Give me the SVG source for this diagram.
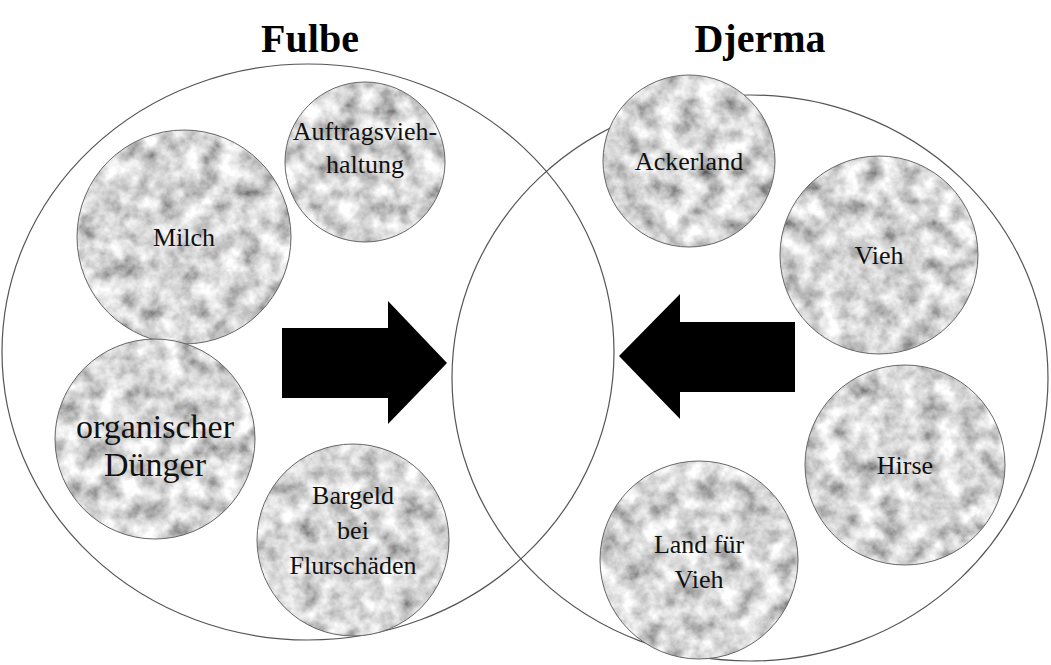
<svg xmlns="http://www.w3.org/2000/svg" width="1051" height="665" viewBox="0 0 1051 665">
<style>
.big{fill:none;stroke:#555;stroke-width:1.2}
.node{fill:#bdbdbd;filter:url(#mottle)}
.ring{fill:none;stroke:#666;stroke-width:1}
.lbl{font-family:"Liberation Serif","Times New Roman",serif;font-size:26px;fill:#111;text-anchor:middle}
.lg{font-size:34px}
.title{font-family:"Liberation Serif","Times New Roman",serif;font-size:40px;font-weight:bold;fill:#000;text-anchor:middle}
.arrow{fill:#000}
</style>
<defs>
<filter id="mottle" x="0" y="0" width="100%" height="100%">
<feTurbulence type="fractalNoise" baseFrequency="0.05" numOctaves="4" seed="7" result="n"/>
<feColorMatrix in="n" type="matrix" values="1.3 0 0 0 0.03  1.3 0 0 0 0.03  1.3 0 0 0 0.03  0 0 0 0 1" result="g"/>
<feComposite in="g" in2="SourceGraphic" operator="in"/>
</filter>
</defs>
<text class="title" x="310" y="52">Fulbe</text>
<text class="title" x="760" y="52">Djerma</text>
<g id="fulbe-set"><ellipse class="big" cx="308" cy="352" rx="306" ry="288"/></g>
<g id="djerma-set"><ellipse class="big" cx="750" cy="378" rx="298" ry="283"/></g>
<g id="milch"><circle class="node" cx="184" cy="237" r="107"/><circle class="ring" cx="184" cy="237" r="107"/><text class="lbl" x="184" y="246">Milch</text></g>
<g id="auftragsviehhaltung"><circle class="node" cx="365" cy="162" r="80"/><circle class="ring" cx="365" cy="162" r="80"/><text class="lbl" x="365" y="140">Auftragsvieh-</text><text class="lbl" x="365" y="173">haltung</text></g>
<g id="duenger"><circle class="node" cx="155" cy="439" r="100"/><circle class="ring" cx="155" cy="439" r="100"/><text class="lbl lg" x="155" y="438">organischer</text><text class="lbl lg" x="155" y="476">Dünger</text></g>
<g id="bargeld"><circle class="node" cx="353" cy="540" r="96"/><circle class="ring" cx="353" cy="540" r="96"/><text class="lbl" x="353" y="504">Bargeld</text><text class="lbl" x="353" y="539">bei</text><text class="lbl" x="353" y="574">Flurschäden</text></g>
<g id="ackerland"><circle class="node" cx="689" cy="161" r="86"/><circle class="ring" cx="689" cy="161" r="86"/><text class="lbl" x="689" y="170">Ackerland</text></g>
<g id="vieh"><circle class="node" cx="879" cy="255" r="99"/><circle class="ring" cx="879" cy="255" r="99"/><text class="lbl" x="879" y="264">Vieh</text></g>
<g id="hirse"><circle class="node" cx="905" cy="465" r="100"/><circle class="ring" cx="905" cy="465" r="100"/><text class="lbl" x="905" y="474">Hirse</text></g>
<g id="land"><circle class="node" cx="699" cy="560" r="99"/><circle class="ring" cx="699" cy="560" r="99"/><text class="lbl" x="699" y="553">Land für</text><text class="lbl" x="699" y="588">Vieh</text></g>
<g id="connectors">
<polygon class="arrow" points="282,328 388,328 388,301 447,363 388,424 388,398 282,398"/>
<polygon class="arrow" points="795,322 680,322 680,294 619,356 680,419 680,392 795,392"/>
</g>
</svg>
